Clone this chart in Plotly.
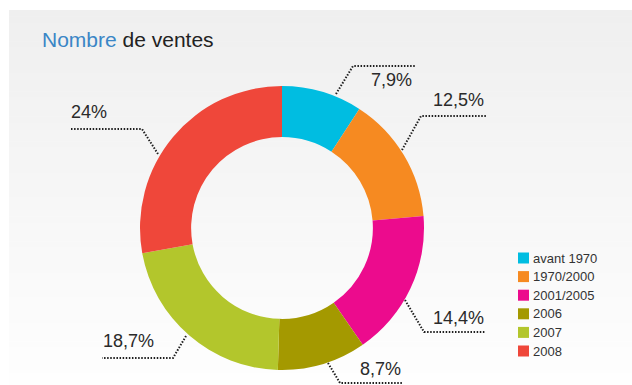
import plotly.graph_objects as go

# Sales share by construction period
categories = ["avant 1970", "1970/2000", "2001/2005", "2006", "2007", "2008"]
shares = [7.9, 12.5, 14.4, 8.7, 18.7, 24]
colors = ["#00BDE1", "#F68A21", "#EC0B8D", "#A49900", "#B3C62C", "#EF473A"]

W, H = 632, 385
FONT = "Liberation Sans, Arial, sans-serif"


def px(x):
    return x / W


def py(y):
    return 1 - y / H


def fmt(v):
    return f"{v:g}".replace(".", ",") + "%"


# Ring geometry in pixels (centre and outer radius)
cx, cy, r = 282, 228, 142

fig = go.Figure(
    go.Pie(
        labels=categories,
        values=shares,
        marker=dict(colors=colors, line=dict(width=0)),
        hole=0.64,
        sort=False,
        direction="clockwise",
        rotation=0,
        textinfo="none",
        hoverinfo="label+value",
        showlegend=False,
        domain=dict(x=[px(cx - r), px(cx + r)], y=[py(cy + r), py(cy - r)]),
    )
)

shapes = []
# Soft vertical gradient panel behind the chart
top, bottom, left = 10, H, 9
steps = 60
c0, c1 = (239, 239, 239), (254, 254, 254)
for i in range(steps):
    t = i / (steps - 1)
    c = tuple(round(a + (b - a) * t) for a, b in zip(c0, c1))
    y0 = top + (bottom - top) * i / steps
    y1 = top + (bottom - top) * (i + 1) / steps + 0.5
    shapes.append(dict(
        type="rect", xref="paper", yref="paper", layer="below",
        x0=px(left), x1=1, y0=py(y0), y1=py(min(y1, H)),
        fillcolor=f"rgb{c}", line=dict(width=0),
    ))

# Dotted leader lines (pixel polylines) and label placement, in slice order
leaders = [
    [(336, 94), (353, 66), (415, 66)],
    [(402, 150), (421, 116), (486, 116)],
    [(405, 300), (424, 332), (486, 332)],
    [(328, 363), (340, 383), (403, 383)],
    [(186, 336), (173, 358), (102, 358)],
    [(158, 154), (142, 129), (71, 129)],
]
label_pos = [
    (414, 80, "right"),
    (486, 100, "right"),
    (486, 318, "right"),
    (403, 369, "right"),
    (101, 341, "left"),
    (69, 112, "left"),
]

for pts in leaders:
    path = "M " + " L ".join(f"{px(x)},{py(y)}" for x, y in pts)
    shapes.append(dict(
        type="path", xref="paper", yref="paper", path=path,
        line=dict(color="#1e1e1e", width=2, dash="1.5px,1.6px"),
    ))

annotations = []
for v, (x, y, anchor) in zip(shares, label_pos):
    annotations.append(dict(
        x=px(x), y=py(y), xref="paper", yref="paper",
        text=fmt(v), showarrow=False, xanchor=anchor, yanchor="middle",
        font=dict(family=FONT, size=18, color="#2a2a2a"),
    ))

annotations.append(dict(
    x=px(40), y=py(39), xref="paper", yref="paper",
    text="<span style='color:#3A86C6'>Nombre</span> de ventes",
    showarrow=False, xanchor="left", yanchor="middle",
    font=dict(family=FONT, size=21, color="#222222"),
))

# Legend: colour swatch + category name, one row per slice
lx, ly0, dy, sw = 518, 258, 18.6, 11
for i, (name, col) in enumerate(zip(categories, colors)):
    yc = ly0 + i * dy
    shapes.append(dict(
        type="rect", xref="paper", yref="paper",
        x0=px(lx), x1=px(lx + sw), y0=py(yc + sw / 2), y1=py(yc - sw / 2),
        fillcolor=col, line=dict(width=0),
    ))
    annotations.append(dict(
        x=px(lx + sw + 2), y=py(yc), xref="paper", yref="paper",
        text=name, showarrow=False, xanchor="left", yanchor="middle",
        font=dict(family=FONT, size=13, color="#333333"),
    ))

fig.update_layout(
    width=W, height=H,
    margin=dict(l=0, r=0, t=0, b=0),
    paper_bgcolor="white",
    plot_bgcolor="rgba(0,0,0,0)",
    shapes=shapes,
    annotations=annotations,
    showlegend=False,
)

fig.write_html("out.html")
